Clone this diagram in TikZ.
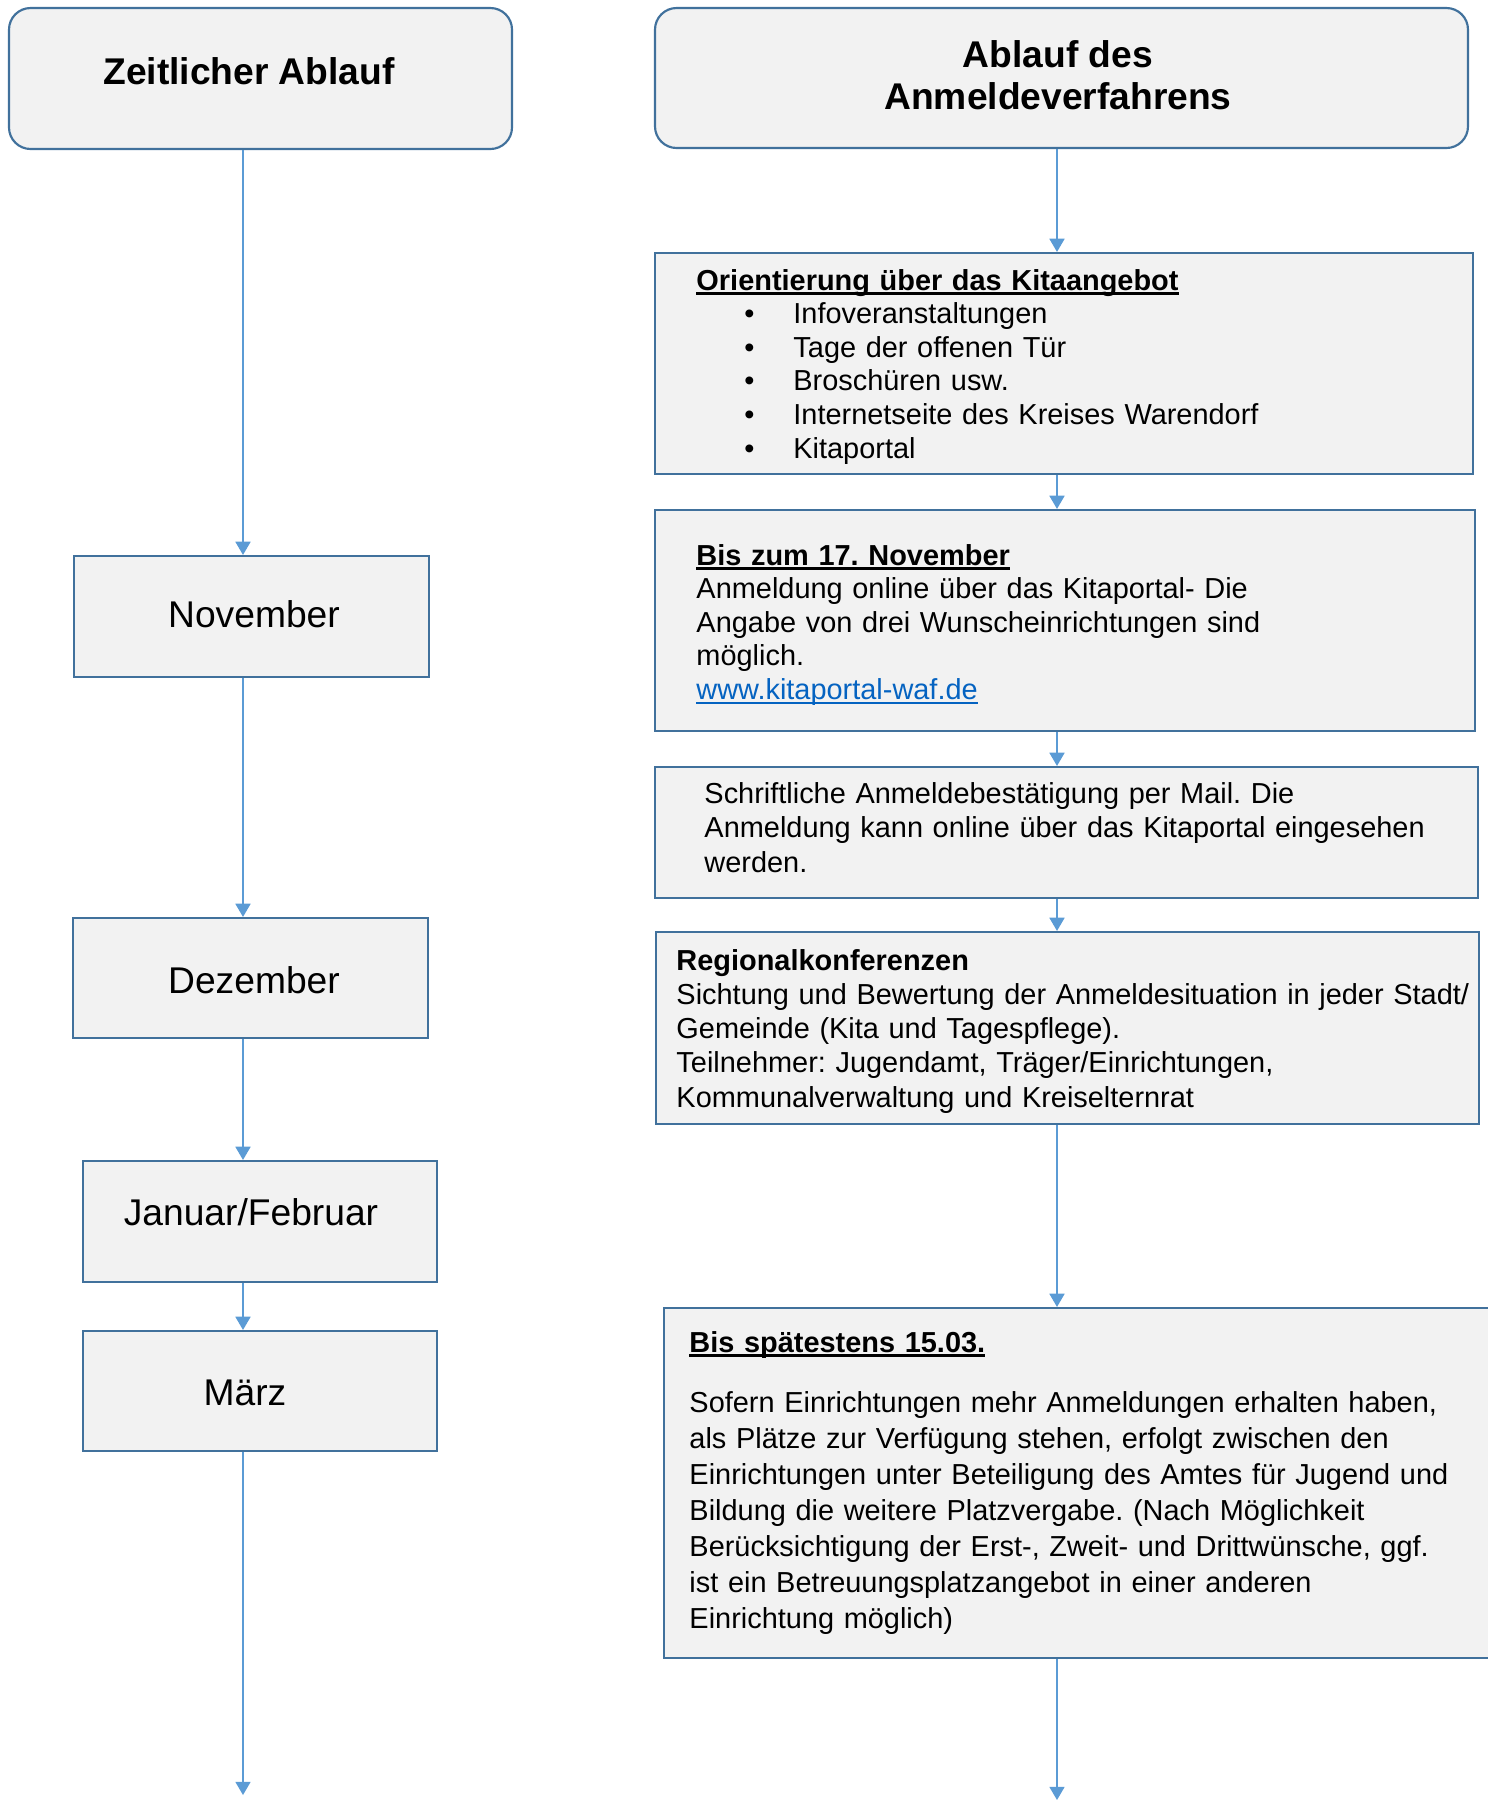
\documentclass[tikz,border=0pt]{standalone}
\usepackage{fontspec}
\setmainfont{Liberation Sans}
\usetikzlibrary{arrows.meta,fit}
\definecolor{boxblue}{RGB}{65,113,156}
\definecolor{lineblue}{RGB}{91,155,213}
\definecolor{boxfill}{RGB}{242,242,242}
\definecolor{linkblue}{RGB}{5,99,193}
\frenchspacing
\newcommand\hul[1]{\leavevmode\setbox0\hbox{#1}\rlap{\rule[-2.1pt]{\wd0}{1.1pt}}\box0}
\newcommand\lnk[1]{\leavevmode\setbox0\hbox{\color{linkblue}#1}\rlap{\color{linkblue}\rule[-2pt]{\wd0}{0.75pt}}\box0}
\newcommand\bul{\hspace*{20pt}\makebox[20.4pt][l]{•}}
\tikzset{
  box/.style={draw=boxblue, line width=0.9pt, fill=boxfill, inner sep=0pt},
  rbox/.style={box, rounded corners=9pt},
  conn/.style={draw=lineblue, line width=0.55pt, -{Triangle[width=6.3pt,length=5.5pt]}},
  lbl/.style={inner sep=0pt, anchor=base, font=\fontsize{15.5}{18}\selectfont},
  ttl/.style={inner sep=0pt, anchor=base, font=\bfseries\fontsize{15.5}{18}\selectfont},
  body/.style={inner sep=0pt, anchor=base west, align=left, text width=400pt, font=\fontsize{12.05}{14}\selectfont},
}
\begin{document}
\begin{tikzpicture}[x=0.416667pt,y=-0.416667pt]
\useasboundingbox (0,0) rectangle (1487,1800);
% boxes
\node[rbox, fit={(9,8) (512,149)}] (zeit) {};
\node[rbox, fit={(655,8) (1468,148)}] (ablauf) {};
\node[box, fit={(74,556) (429,677)}] (nov) {};
\node[box, fit={(73,918) (428,1038)}] (dez) {};
\node[box, fit={(83,1161) (437,1282)}] (jan) {};
\node[box, fit={(83,1331) (437,1451)}] (maerz) {};
\node[box, fit={(655,253) (1473,474)}] (orient) {};
\node[box, fit={(655,510) (1475,731)}] (bisnov) {};
\node[box, fit={(655,767) (1478,898)}] (schrift) {};
\node[box, fit={(656,932) (1479,1124)}] (regio) {};
\node[box, fit={(664,1308) (1497,1658)}] (spaet) {};
% titles
\node[ttl] (zeitT) at (249,84) {Zeitlicher Ablauf};
\node[ttl] (ablT1) at (1058,67) {Ablauf des};
\node[ttl] (ablT2) at (1058,109) {Anmeldeverfahrens};
% months
\node[lbl] (novT) at (254,627) {November};
\node[lbl] (dezT) at (254,993) {Dezember};
\node[lbl] (janT) at (251,1225) {Januar/Februar};
\node[lbl] (maerzT) at (245,1405) {März};
% right texts
\node[body] (orientT) at (696,290) {\textbf{\hul{Orientierung über das Kitaangebot}}\\
\bul Infoveranstaltungen\\
\bul Tage der offenen Tür\\
\bul Broschüren usw.\\
\bul Internetseite des Kreises Warendorf\\
\bul Kitaportal};
\node[body] (bisnovT) at (696,565) {\textbf{\hul{Bis zum 17. November}}\\
Anmeldung online über das Kitaportal- Die\\
Angabe von drei Wunscheinrichtungen sind\\
möglich.\\
\lnk{www.kitaportal-waf.de}};
\node[body, font=\fontsize{12.05}{14.4}\selectfont] (schriftT) at (704,803) {Schriftliche Anmeldebestätigung per Mail. Die\\
Anmeldung kann online über das Kitaportal eingesehen\\
werden.};
\node[body, font=\fontsize{12.05}{14.3}\selectfont] (regioT) at (676,970) {\textbf{Regionalkonferenzen}\\
Sichtung und Bewertung der Anmeldesituation in jeder Stadt/\\
Gemeinde (Kita und Tagespflege).\\
Teilnehmer: Jugendamt, Träger/Einrichtungen,\\
Kommunalverwaltung und Kreiselternrat};
\node[body] (spaetH) at (689,1352) {\textbf{\hul{Bis spätestens 15.03.}}};
\node[body, font=\fontsize{12.05}{15}\selectfont] (spaetT) at (689,1412) {Sofern Einrichtungen mehr Anmeldungen erhalten haben,\\
als Plätze zur Verfügung stehen, erfolgt zwischen den\\
Einrichtungen unter Beteiligung des Amtes für Jugend und\\
Bildung die weitere Platzvergabe. (Nach Möglichkeit\\
Berücksichtigung der Erst-, Zweit- und Drittwünsche, ggf.\\
ist ein Betreuungsplatzangebot in einer anderen\\
Einrichtung möglich)};
% connectors
\coordinate (lx) at (243,0);
\coordinate (rx) at (1057,0);
\coordinate (lend) at (243,1795);
\coordinate (rend) at (1057,1800);
\draw[conn] (zeit.south -| lx) -- (nov.north -| lx);
\draw[conn] (nov.south -| lx) -- (dez.north -| lx);
\draw[conn] (dez.south -| lx) -- (jan.north -| lx);
\draw[conn] (jan.south -| lx) -- (maerz.north -| lx);
\draw[conn] (maerz.south -| lx) -- (lend);
\draw[conn] (ablauf.south -| rx) -- (orient.north -| rx);
\draw[conn] (orient.south -| rx) -- (bisnov.north -| rx);
\draw[conn] (bisnov.south -| rx) -- (schrift.north -| rx);
\draw[conn] (schrift.south -| rx) -- (regio.north -| rx);
\draw[conn] (regio.south -| rx) -- (spaet.north -| rx);
\draw[conn] (spaet.south -| rx) -- (rend);
\end{tikzpicture}
\end{document}
